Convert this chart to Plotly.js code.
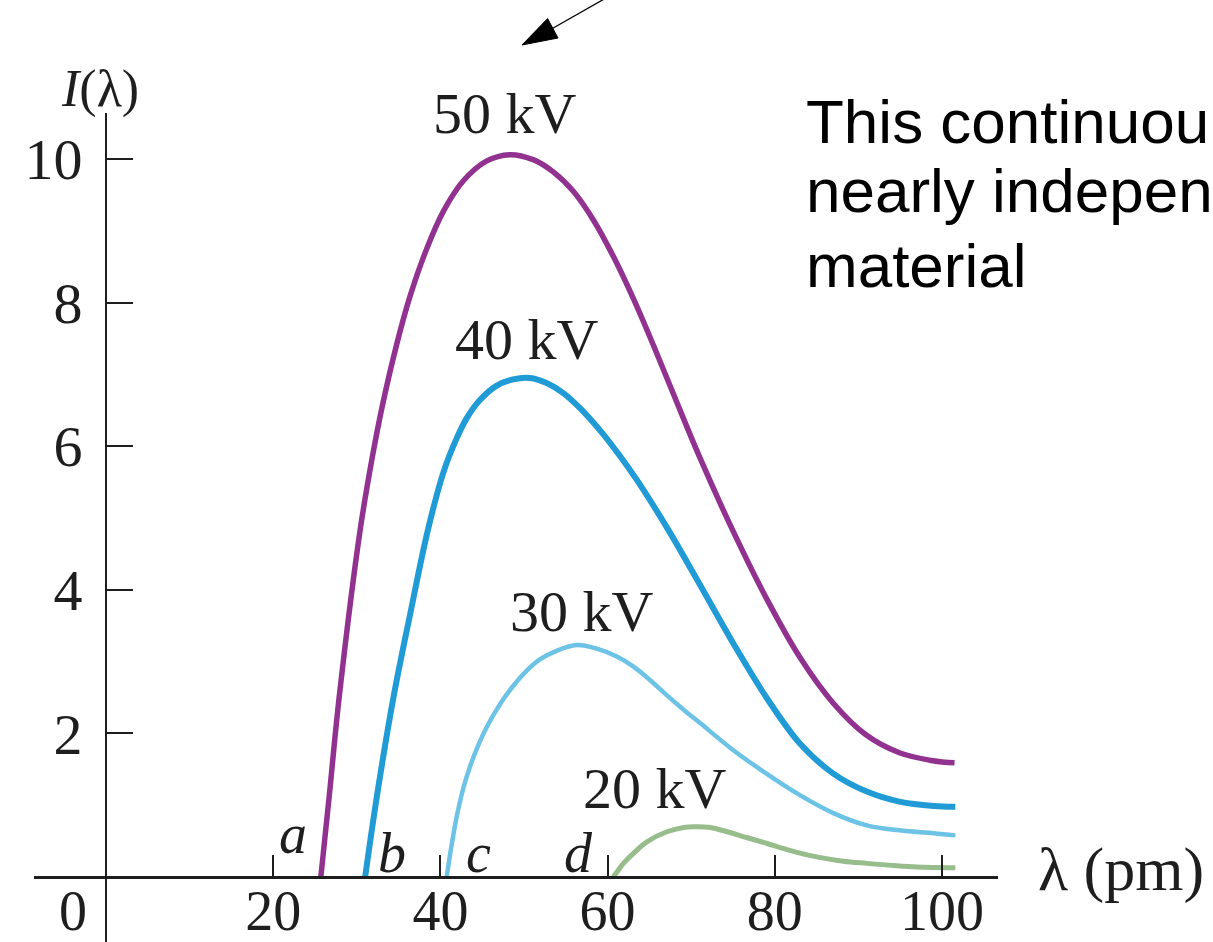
<!DOCTYPE html>
<html>
<head>
<meta charset="utf-8">
<script src="https://cdn.plot.ly/plotly-3.0.1.min.js"></script>
<style>
html,body{margin:0;padding:0;background:#fff;}
#chart{width:1213px;height:942px;}
</style>
</head>
<body>
<div id="chart"></div>
<script>
// ---- data (λ in pm, I in arbitrary units) ----
const lambda50 = [25.7, 26.7, 27.9, 30.4, 31.8, 33.0, 34.8, 36.4, 38.4, 40.4, 42.7, 45.5, 48.3, 51.1, 53.5, 55.9, 58.3, 60.7, 63.1, 65.5, 67.9, 71.0, 75.0, 79.0, 83.0, 87.0, 90.9, 94.9, 98.9, 101.5];
const intensity50 = [0, 1.12, 2.51, 4.83, 5.81, 6.53, 7.43, 8.10, 8.76, 9.28, 9.69, 9.97, 10.06, 9.99, 9.82, 9.55, 9.15, 8.64, 8.05, 7.40, 6.72, 5.85, 4.82, 3.88, 3.06, 2.42, 1.98, 1.73, 1.62, 1.59];

const lambda40 = [31.0, 32.4, 34.4, 36.4, 38.5, 40.4, 41.8, 43.1, 44.7, 46.7, 48.7, 50.7, 52.7, 54.7, 56.7, 59.1, 61.5, 63.5, 66.3, 67.8, 71.0, 75.0, 79.0, 83.0, 87.0, 91.0, 94.9, 99.0, 101.6];
const intensity40 = [0, 1.12, 2.51, 3.67, 4.83, 5.65, 6.07, 6.38, 6.64, 6.84, 6.93, 6.95, 6.88, 6.74, 6.53, 6.22, 5.86, 5.53, 5.02, 4.73, 4.08, 3.26, 2.50, 1.86, 1.44, 1.19, 1.05, 0.99, 0.98];

const lambda30 = [40.75, 41.35, 41.95, 42.75, 43.55, 44.55, 45.55, 47.15, 48.7, 50.3, 51.9, 53.9, 56.3, 58.7, 61.1, 63.1, 65.1, 67.1, 69.1, 71.1, 75.0, 79.0, 83.0, 87.0, 91.0, 94.9, 99.0, 101.6];
const intensity30 = [0, 0.45, 0.84, 1.24, 1.54, 1.84, 2.09, 2.41, 2.66, 2.87, 3.03, 3.15, 3.23, 3.18, 3.07, 2.93, 2.74, 2.53, 2.33, 2.14, 1.77, 1.44, 1.14, 0.89, 0.72, 0.65, 0.61, 0.58];

const lambda20 = [60.7, 61.9, 63.1, 64.7, 67.1, 69.1, 70.3, 72.3, 74.3, 76.6, 79.0, 81.8, 85.0, 88.2, 91.0, 94.2, 97.0, 101.6];
const intensity20 = [0, 0.19, 0.33, 0.49, 0.63, 0.69, 0.70, 0.69, 0.63, 0.55, 0.47, 0.37, 0.28, 0.22, 0.19, 0.16, 0.14, 0.13];

const seriesNames = ["50 kV", "40 kV", "30 kV", "20 kV"];
const cutoffLetters = ["a", "b", "c", "d"];
const xTickVals = [20, 40, 60, 80, 100];
const xTickText = ["20", "40", "60", "80", "100"];
const yTickVals = [2, 4, 6, 8, 10];
const yTickText = ["2", "4", "6", "8", "10"];
const noteLines = ["This continuou", "nearly indepen", "material"];

// ---- layout geometry ----
const W = 1213, H = 942;
const M = {l: 34, r: 215, t: 113, b: 0};
const xRange = [-8.61, 106.70];
const yRange = [-0.905, 10.64];
const pw = W - M.l - M.r, ph = H - M.t - M.b;
function px(X) { return (X - M.l) / pw; }
function py(Y) { return (H - M.b - Y) / ph; }

const SERIF = "Liberation Serif, Times New Roman, serif";
const SANS = "Liberation Sans, Arial, sans-serif";
const INK = "#1e1e1e";

const colors = ["#923290", "#209bd6", "#6cc3e5", "#98bd8c"];
const widths = [5.5, 6, 4.5, 5];
const xs = [lambda50, lambda40, lambda30, lambda20];
const ys = [intensity50, intensity40, intensity30, intensity20];

const traces = xs.map((x, i) => ({
  x: x, y: ys[i], name: seriesNames[i], type: "scatter", mode: "lines",
  line: {color: colors[i], width: widths[i], shape: "spline", smoothing: 1},
  hoverinfo: "skip"
}));

const serifFont = (s) => ({family: SERIF, size: s, color: INK});

const annotations = [];
// curve labels
const labelPos = [[47.7, 10.64], [50.4, 7.48], [56.9, 3.70], [65.7, 1.23]];
seriesNames.forEach((t, i) => {
  if (i === 0) {
    annotations.push({xref: "paper", yref: "paper", x: px(505), y: py(113), text: t, showarrow: false, font: serifFont(58), xanchor: "center", yanchor: "middle"});
  } else {
    annotations.push({xref: "x", yref: "y", x: labelPos[i][0], y: labelPos[i][1], text: t, showarrow: false, font: serifFont(58), xanchor: "center", yanchor: "middle"});
  }
});
// cutoff letters
const letterPos = [[22.4, 0.60], [34.2, 0.33], [44.5, 0.33], [56.5, 0.33]];
cutoffLetters.forEach((t, i) => {
  annotations.push({xref: "x", yref: "y", x: letterPos[i][0], y: letterPos[i][1], text: "<i>" + t + "</i>", showarrow: false, font: serifFont(56), xanchor: "center", yanchor: "middle"});
});
// axis titles and origin
annotations.push({xref: "paper", yref: "paper", x: px(100), y: py(89), text: "<i>I</i>(λ)", showarrow: false, font: serifFont(52), xanchor: "center", yanchor: "middle"});
annotations.push({xref: "paper", yref: "paper", x: px(1036), y: py(869), text: "λ (pm)", showarrow: false, font: serifFont(62), xanchor: "left", yanchor: "middle"});
annotations.push({xref: "paper", yref: "paper", x: px(73), y: py(911), text: "0", showarrow: false, font: serifFont(56), xanchor: "center", yanchor: "middle"});
// note text (as far as it is visible)
const noteY = [121, 191, 265];
noteLines.forEach((t, i) => {
  annotations.push({xref: "paper", yref: "paper", x: px(804), y: py(noteY[i]), text: t, showarrow: false, font: {family: SANS, size: 62, color: "#000"}, xanchor: "left", yanchor: "middle"});
});

// pointer arrow (decoration)
const tip = [522, 45], base = [552.8, 28.3], c1 = [558.0, 38.0], c2 = [547.6, 18.6], tail = [606, -2];
const shapes = [
  {type: "line", xref: "paper", yref: "paper", x0: px(tail[0]), y0: py(tail[1]), x1: px(base[0]), y1: py(base[1]), line: {color: "#000", width: 1.3}},
  {type: "path", xref: "paper", yref: "paper",
   path: `M${px(tip[0])},${py(tip[1])} L${px(c1[0])},${py(c1[1])} L${px(c2[0])},${py(c2[1])} Z`,
   fillcolor: "#000", line: {color: "#000", width: 1}}
];

const layout = {
  width: W, height: H,
  margin: M,
  paper_bgcolor: "#fff", plot_bgcolor: "rgba(0,0,0,0)",
  showlegend: false, hovermode: false,
  xaxis: {
    range: xRange, anchor: "free", position: (0 - yRange[0]) / (yRange[1] - yRange[0]),
    showline: true, linecolor: INK, linewidth: 2.5, showgrid: false, zeroline: false,
    ticks: "inside", ticklen: 21, tickwidth: 2, tickcolor: INK,
    tickmode: "array", tickvals: xTickVals, ticktext: xTickText,
    tickfont: serifFont(56), ticklabelstandoff: -16, automargin: false, fixedrange: true
  },
  yaxis: {
    range: yRange, anchor: "free", position: (0 - xRange[0]) / (xRange[1] - xRange[0]),
    showline: true, linecolor: INK, linewidth: 2.5, showgrid: false, zeroline: false,
    ticks: "inside", ticklen: 26, tickwidth: 2, tickcolor: INK,
    tickmode: "array", tickvals: yTickVals, ticktext: yTickText,
    tickfont: serifFont(58), ticklabelstandoff: 11, automargin: false, fixedrange: true
  },
  annotations: annotations,
  shapes: shapes
};

Plotly.newPlot("chart", traces, layout, {displayModeBar: false, staticPlot: true});
</script>
</body>
</html>
